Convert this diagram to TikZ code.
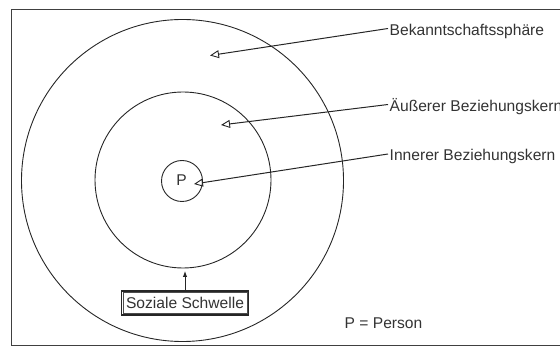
\documentclass[tikz,border=0pt]{standalone}
\usepackage{fontspec}
\setmainfont{Liberation Sans}
\usetikzlibrary{arrows.meta}
\begin{document}
\begin{tikzpicture}[x=1pt,y=-1pt,
  ring/.style={draw=black!85, line width=0.9pt},
  txt/.style={font=\fontsize{15.6}{18}\selectfont, text=black!80},
  lab/.style={txt, anchor=west, inner sep=1.5pt},
  pointer/.style={draw=black!85, line width=1pt, -{Triangle[open,length=9pt,width=8pt,line width=0.9pt]}},
  upper/.style={draw=black!85, line width=1pt, -{Latex[length=6pt,width=4.5pt]}},
  framebox/.style={txt, draw=black!85, line width=1.2pt, minimum width=127pt, minimum height=24pt, inner sep=0pt}]
\useasboundingbox (0,0) rectangle (560,347);
% outer frame (right side cut off)
\draw[line width=1.2pt, draw=black!75] (575,9.5) -| (11.5,345.8) -- (575,345.8);
% circles
\node[ring, circle, minimum size=322pt, inner sep=0pt] (outer) at (182.5,180.5) {};
\node[ring, circle, minimum size=176pt, inner sep=0pt] (middle) at (183,180) {};
\node[ring, circle, minimum size=41pt, inner sep=0pt] (inner) at (182,181) {};
\node[txt, inner sep=0pt] (P) at (181.5,180) {P};
% labels
\node[lab] (l1) at (388,31) {Bekanntschaftssphäre};
\node[lab] (l2) at (388,107) {Äußerer Beziehungskern};
\node[lab] (l3) at (388,156.5) {Innerer Beziehungskern};
\coordinate (t1) at (210,55.5);
\coordinate (t2) at (221,125);
\coordinate (t3) at (194,184);
\draw[pointer] ([yshift=2.5pt]l1.west) -- (t1);
\draw[pointer] ([yshift=2.5pt]l2.west) -- (t2);
\draw[pointer] ([yshift=2.5pt]l3.west) -- (t3);
% Soziale Schwelle
\node[framebox] (sw) at (185,303) {Soziale Schwelle};
\draw[draw=black!70, line width=0.5pt] ([shift={(2.2pt,-2.2pt)}]sw.north west) rectangle ([shift={(-2.2pt,2.2pt)}]sw.south east);
\coordinate (s1) at (185,271);
\draw[upper] (sw.north) -- (s1);
% legend
\node[lab] (leg) at (343,323.5) {P = Person};
\end{tikzpicture}
\end{document}
